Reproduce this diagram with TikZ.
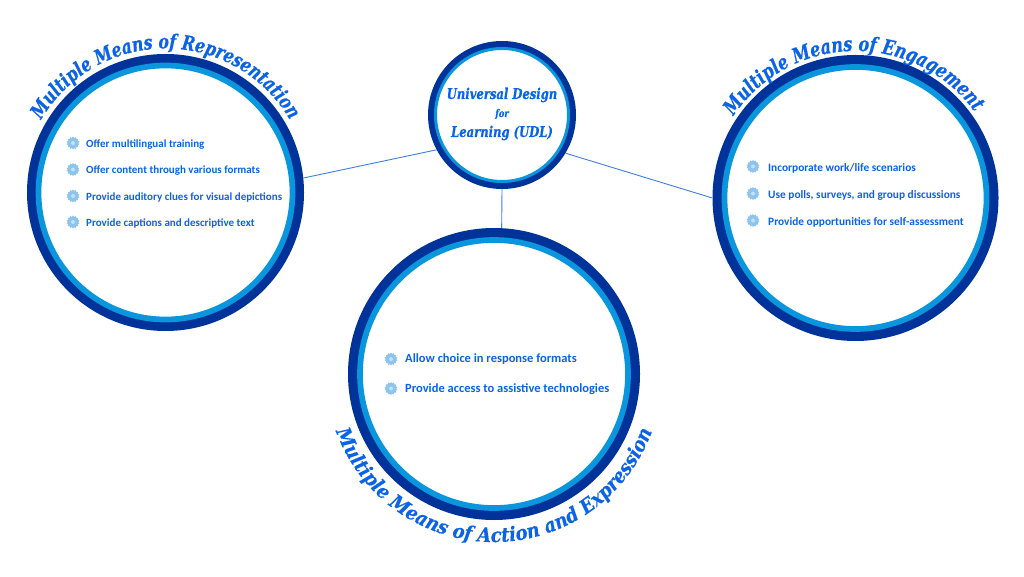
\documentclass[tikz,border=0pt]{standalone}
\usepackage{fontspec}
\setmainfont{Carlito}
\newfontfamily\headfont[FakeStretch=0.87,FakeBold=0.5]{DejaVu Serif Condensed}
\newfontfamily\lowfont[FakeBold=0.4]{DejaVu Serif Condensed}
\usetikzlibrary{decorations.text,shapes.geometric}
\definecolor{ringdark}{HTML}{003399}
\definecolor{ringlight}{HTML}{0A96DC}
\definecolor{inkblue}{HTML}{0B63E5}
\definecolor{linkblue}{HTML}{3F7FE0}
\definecolor{burst}{HTML}{8CC4EE}
\definecolor{burstcore}{HTML}{C4E2F7}
\tikzset{
  x=1pt,y=1pt,
  ringouter/.style={circle,draw=none,fill=ringdark,inner sep=0pt},
  ringinner/.style={circle,draw=ringlight,fill=white,line width=5.7pt,inner sep=0pt},
  link/.style={draw=linkblue,line width=0.9pt},
  itemtext/.style={anchor=west,text=inkblue,font=\bfseries\fontsize{11}{13}\selectfont,inner sep=0pt},
  wideitem/.style={itemtext,font=\bfseries\fontsize{11.35}{13}\selectfont},
  largeitem/.style={itemtext,font=\bfseries\fontsize{12.5}{14}\selectfont},
  burstmark/.style={star,star points=14,star point ratio=1.25,fill=burst,inner sep=0pt,minimum size=13pt},
  burstdot/.style={circle,fill=burstcore,inner sep=0pt,minimum size=4pt},
  hubtext/.style={text=inkblue,font=\headfont\bfseries\itshape\fontsize{14.8}{17}\selectfont,inner sep=0pt},
  arctext/.style={decorate,decoration={text along path,text align=center,text={#1}}}
}
\newcommand{\bulletat}[3]{%
  \node[burstmark] (#3) at (#1,#2) {};
  \node[burstdot] (#3c) at (#1,#2) {};}
\newcommand{\bighead}{\color{inkblue}\headfont\bfseries\itshape\fontsize{20}{26}\selectfont}
\newcommand{\sidehead}{\color{inkblue}\headfont\bfseries\itshape\fontsize{20.5}{26}\selectfont}
\newcommand{\lowhead}{\color{inkblue}\lowfont\bfseries\itshape\fontsize{19.8}{24}\selectfont}
\begin{document}
\begin{tikzpicture}
\useasboundingbox (0,0) rectangle (1024,576);
\fill[white] (0,0) rectangle (1024,576);
% outer rings carry the connector anchors
\node[ringouter,minimum size=277pt] (rep) at (165.5,383.5) {};
\node[ringouter,minimum size=286pt] (eng) at (855.5,378) {};
\node[ringouter,minimum size=292pt] (act) at (494,202) {};
\node[ringouter,minimum size=148pt] (hub) at (502,461) {};
% connectors
\draw[link] (hub.208) -- (rep.6.6);
\draw[link] (hub.-31) -- (eng.180);
\draw[link] (hub.south) -- (act.87);
% inner rings
\node[ringinner,minimum size=254pt] at (rep) {};
\node[ringinner,minimum size=262pt] at (eng) {};
\node[ringinner,minimum size=268pt] at (act) {};
\node[ringinner,minimum size=133pt,line width=3pt] at (hub) {};
% hub label
\node[hubtext] (hubA) at (502,481) {Universal Design};
\node[hubtext,font=\headfont\bfseries\itshape\fontsize{10.5}{13}\selectfont] (hubB) at (502,462) {for};
\node[hubtext] (hubC) at (502,443) {Learning (UDL)};
% curved headings
\path[arctext={|\bighead|Multiple Means of Representation}]
  (rep.center) ++(170:144) arc[start angle=170,end angle=10,radius=144];
\path[arctext={|\sidehead|Multiple Means of Engagement}]
  (eng.center) ++(170:147) arc[start angle=170,end angle=12,radius=147];
\path[arctext={|\lowhead|Multiple Means of Action and Expression}]
  (act.center) ++(190:168) arc[start angle=190,end angle=350,radius=168];
% representation list
\bulletat{73}{433}{ra}\node[itemtext] (rat) at (86,431.5) {Offer multilingual training};
\bulletat{73}{406.5}{rb}\node[itemtext] (rbt) at (86,405) {Offer content through various formats};
\bulletat{73}{380}{rc}\node[itemtext] (rct) at (86,378.5) {Provide auditory clues for visual depictions};
\bulletat{73}{354}{rd}\node[itemtext] (rdt) at (86,352.5) {Provide captions and descriptive text};
% engagement list
\bulletat{753}{409.5}{ea}\node[wideitem] (eat) at (768,408) {Incorporate work/life scenarios};
\bulletat{753}{382.5}{eb}\node[wideitem] (ebt) at (768,381) {Use polls, surveys, and group discussions};
\bulletat{753}{355.5}{ec}\node[wideitem] (ect) at (768,354) {Provide opportunities for self-assessment};
% action list
\bulletat{391}{217}{aa}\node[largeitem] (aat) at (405,216.5) {Allow choice in response formats};
\bulletat{391}{187.5}{ab}\node[largeitem] (abt) at (405,187) {Provide access to assistive technologies};
\end{tikzpicture}
\end{document}
